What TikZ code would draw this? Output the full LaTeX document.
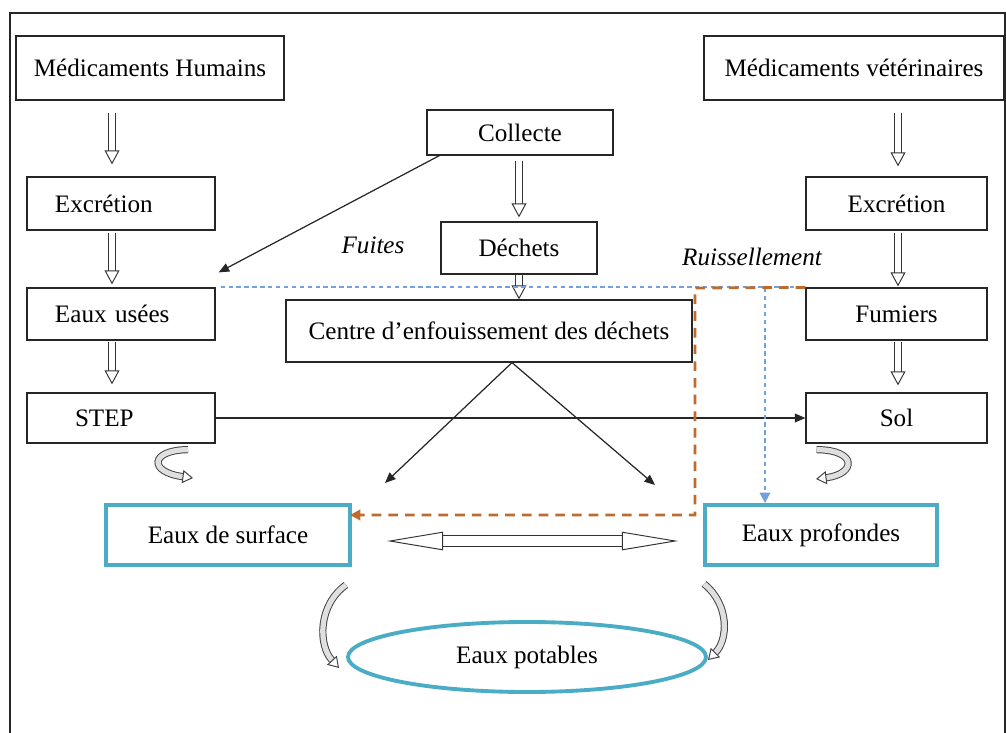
\documentclass[tikz,border=0pt]{standalone}
\usepackage{fontspec}
\setmainfont{Liberation Serif}
\usetikzlibrary{arrows.meta,calc,shapes.geometric}

\definecolor{surfblue}{RGB}{75,172,198}
\definecolor{runbrown}{RGB}{190,108,45}
\definecolor{seepblue}{RGB}{115,160,222}
\newcommand{\txt}{\fontsize{14.3}{17}\selectfont}

\tikzset{
  box/.style={draw=black!85, line width=0.7pt, inner sep=0pt, font=\txt},
  leftbox/.style={box, align=left, text width=26.4mm, inner xsep=5.6mm},
  water/.style={draw=surfblue, line width=2.2pt, inner sep=0pt, font=\txt},
  hollow/.style={draw=black!80, line width=0.55pt, double=white, double distance=3.6pt,
    -{Triangle[open, length=8pt, width=8.5pt, line width=0.55pt]}},
  twoway/.style={draw=black!80, line width=0.55pt, double=white, double distance=5.6pt,
    {Triangle[open, length=32pt, width=10.5pt, line width=0.55pt]}-{Triangle[open, length=32pt, width=10.5pt, line width=0.55pt]}},
  curl/.style={draw=black!75, line width=0.55pt, double=gray!25, double distance=3pt,
    -{Triangle[open, length=6pt, width=7.5pt, line width=0.55pt]}},
  flow/.style={draw=black!85, line width=0.7pt, -{Triangle[length=6pt, width=5pt]}},
  runoff/.style={draw=runbrown, line width=1.6pt, dash pattern=on 5.5pt off 4pt,
    -{Triangle[length=6pt, width=6pt]}},
  seep/.style={draw=seepblue, line width=1.2pt, dash pattern=on 2.5pt off 2pt}
}

\begin{document}
\begin{tikzpicture}[x=0.2mm, y=-0.2mm]
  \useasboundingbox (0,0) rectangle (1006,733);
  \draw[line width=1.1pt, black!85] (10,733) -- (10,13) -- (1005,13) -- (1005,733); % frame

  % sources
  \node[box, minimum width=53.6mm, minimum height=12.8mm] (mh) at (150,68) {Médicaments Humains};
  \node[box, minimum width=60mm, minimum height=12.8mm] (mv) at (854,68) {Médicaments vétérinaires};
  \node[box, minimum width=37.2mm, minimum height=9mm] (col) at (520,132.5) {Collecte};

  % left column
  \node[leftbox, minimum height=10.6mm] (exh) at (121,203.5) {Excrétion};
  \node[leftbox, minimum height=10.4mm] (euh) at (121,314) {Eaux usées};
  \node[leftbox, minimum height=10mm] (step) at (121,418) {\hspace*{4mm}STEP};

  % right column
  \node[box, minimum width=36.2mm, minimum height=10.6mm] (exv) at (896.5,203.5) {Excrétion};
  \node[box, minimum width=36.2mm, minimum height=10.4mm] (fum) at (896.5,314) {Fumiers};
  \node[box, minimum width=36.2mm, minimum height=10mm] (sol) at (896.5,418) {Sol};

  % middle
  \node[box, minimum width=31.2mm, minimum height=10.4mm] (dec) at (519,248) {Déchets};
  \node[box, minimum width=81.2mm, minimum height=12.4mm] (cen) at (489,331) {Centre d’enfouissement des déchets};

  % waters
  \node[water, minimum width=48.8mm, minimum height=12mm] (es) at (228,535) {Eaux de surface};
  \node[water, minimum width=46.4mm, minimum height=12mm] (ep) at (821,535) {Eaux profondes};
  \node[water, ellipse, minimum width=71.6mm, minimum height=14mm] (pot) at (527,657) {Eaux potables};

  \node[font=\txt\itshape] (fuites) at (373,245) {Fuites};
  \node[font=\txt\itshape] (ruis) at (752,257) {Ruissellement};

  % hollow arrows
  \draw[hollow] ($(mh.south -| exh.north)+(-9,12)$) -- ($(exh.north)+(-9,-12)$);
  \draw[hollow] ($(exh.south)+(-9,2)$) -- ($(euh.north)+(-9,-3)$);
  \draw[hollow] ($(euh.south)+(-9,1)$) -- ($(step.north)+(-9,-8)$);
  \draw[hollow] ($(mv.south -| exv.north)+(1.5,12)$) -- ($(exv.north)+(1.5,-10)$);
  \draw[hollow] ($(exv.south)+(1.5,2)$) -- ($(fum.north)+(1.5,-1)$);
  \draw[hollow] ($(fum.south)+(1.5,1)$) -- ($(sol.north)+(1.5,-7)$);
  \draw[hollow] ($(col.south)+(-1,5)$) -- ($(dec.north)+(0,-4)$);
  \draw[hollow] (dec.south) -- (cen.north -| dec.south);
  \draw[twoway] ($(es.east)+(35,6)$) -- ($(ep.west)+(-25,6)$);

  % thin arrows
  \coordinate (cl) at (385,483);
  \coordinate (cr) at (655,485);
  \draw[flow] ($(col.south west)+(13,0)$) -- ($(euh.north east)+(3,-15)$);
  \draw[flow] ($(cen.south)+(23,0)$) -- (cl);
  \draw[flow] ($(cen.south)+(23,0)$) -- (cr);
  \draw[flow] (step.east) -- (sol.west);

  % runoff and infiltration
  \coordinate (rb) at (765,288);
  \draw[seep] ($(euh.north east)+(5,0)$) -- (fum.north west);
  \draw[seep, -{Triangle[length=6pt, width=6pt]}] (rb) -- (rb |- ep.north);
  \draw[runoff] (fum.north west) -- (695,288) -- (695,515) -- ($(es.east)+(-2,-20)$);

  % curled arrows
  \draw[curl] ($(step.south)+(67,6)$) .. controls (150,450) and (148,472) .. (193,478);
  \draw[curl] ($(sol.south)+(-80,6)$) .. controls (858,450) and (856,474) .. (816,479);
  \draw[curl] ($(es.south east)+(-6,18)$) .. controls (318,605) and (318,645) .. (339,668);
  \draw[curl] ($(ep.south west)+(1,17)$) .. controls (730,605) and (728,640) .. (708,660);
\end{tikzpicture}
\end{document}
